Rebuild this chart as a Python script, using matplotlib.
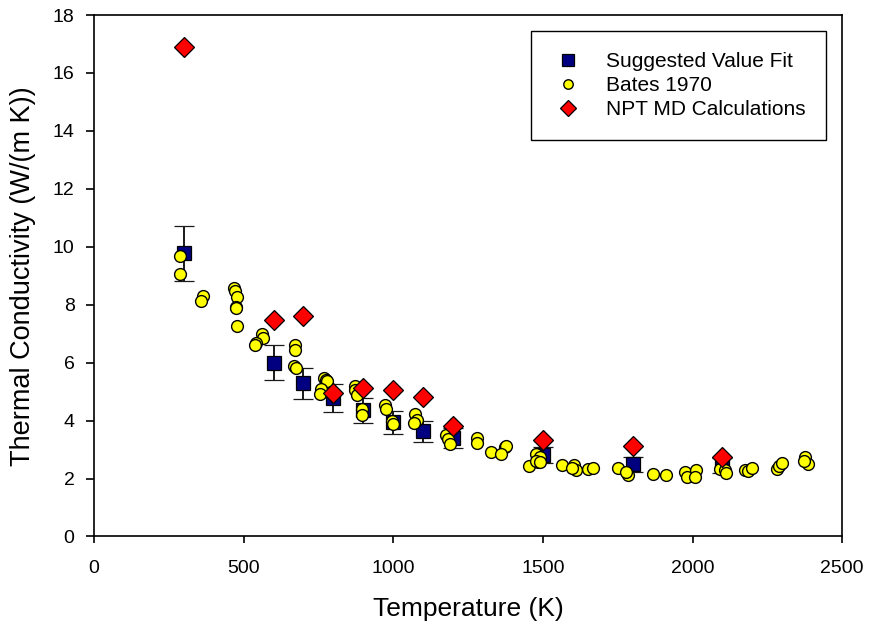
import numpy as np
import matplotlib
matplotlib.use("Agg")
import matplotlib.pyplot as plt

plt.rcParams['font.family'] = ['Liberation Sans', 'DejaVu Sans']

# Suggested value fit (with 10% error bars)
fit_T = [300, 600, 700, 800, 900, 1000, 1100, 1200, 1500, 1800, 2100]
fit_k = [9.78, 6.00, 5.29, 4.77, 4.35, 3.94, 3.63, 3.39, 2.80, 2.49, 2.45]
fit_err = [0.95, 0.60, 0.53, 0.48, 0.43, 0.39, 0.36, 0.34, 0.28, 0.25, 0.25]

# Bates 1970 measurements
bates_T = [288, 288, 366, 357, 468, 470, 478, 476, 476, 478, 562, 565, 542, 539,
           671, 672, 668, 675, 769, 774, 777, 760, 755, 871, 872, 880, 894, 896,
           973, 977, 995, 998, 1074, 1078, 1070, 1176, 1182, 1188, 1279, 1281,
           1326, 1372, 1377, 1360, 1455, 1483, 1483, 1478, 1492, 1478, 1492,
           1564, 1603, 1612, 1597, 1651, 1668, 1751, 1783, 1779, 1869, 1910,
           1975, 1980, 2011, 2009, 2092, 2107, 2111, 2176, 2187, 2198, 2282,
           2290, 2300, 2377, 2386, 2372]
bates_k = [9.69, 9.05, 8.29, 8.12, 8.56, 8.47, 8.27, 7.92, 7.87, 7.26, 6.98, 6.85,
           6.68, 6.61, 6.60, 6.43, 5.87, 5.83, 5.48, 5.41, 5.36, 5.10, 4.91, 5.18,
           5.05, 4.87, 4.39, 4.18, 4.53, 4.41, 3.98, 3.89, 4.24, 4.03, 3.92, 3.51,
           3.38, 3.18, 3.41, 3.22, 2.91, 3.09, 3.14, 2.83, 2.43, 2.80, 2.57, 2.86,
           2.74, 2.59, 2.57, 2.48, 2.48, 2.30, 2.37, 2.34, 2.37, 2.36, 2.11, 2.22,
           2.17, 2.11, 2.22, 2.05, 2.30, 2.07, 2.34, 2.28, 2.19, 2.28, 2.25, 2.37,
           2.32, 2.43, 2.55, 2.74, 2.51, 2.59]

# NPT MD calculations
md_T = [300, 600, 700, 800, 900, 1000, 1100, 1200, 1500, 1800, 2100]
md_k = [16.90, 7.46, 7.60, 4.94, 5.11, 5.04, 4.80, 3.80, 3.32, 3.14, 2.76]

fig = plt.figure(figsize=(8.7, 6.26), dpi=100)
ax = fig.add_axes([0.108, 0.1430, 0.860, 0.8330])

eb = ax.errorbar(fit_T, fit_k, yerr=fit_err, fmt='s', color='#000080', ms=10,
                 mec='black', mew=0.9, ecolor='#1a1a1a', elinewidth=1.4,
                 capsize=7, capthick=1.4, zorder=2)
bates, = ax.plot(bates_T, bates_k, 'o', color='#ffff00', ms=8.5, mec='black',
                 mew=1.0, zorder=3)
md, = ax.plot(md_T, md_k, 'D', color='#ff0000', ms=10, mec='black', mew=0.9,
              zorder=4)

ax.set_xlim(0, 2500)
ax.set_ylim(0, 18)
ax.set_xticks(np.arange(0, 2501, 500))
ax.set_yticks(np.arange(0, 19, 2))
for s in ax.spines.values():
    s.set_linewidth(1.2)
ax.tick_params(axis='x', direction='out', labelsize=14, length=5, width=1.2, pad=12)
ax.tick_params(axis='y', direction='out', labelsize=14, length=6, width=1.2, pad=8)
ax.set_xlabel('Temperature (K)', fontsize=19, labelpad=14)
ax.set_ylabel('Thermal Conductivity (W/(m K))', fontsize=19.5, labelpad=12)

leg = ax.legend([eb[0], bates, md],
                ['Suggested Value Fit', 'Bates 1970', 'NPT MD Calculations'],
                loc='upper right', bbox_to_anchor=(826 / 870, 1 - 31 / 626),
                bbox_transform=fig.transFigure, borderaxespad=0,
                fontsize=15, fancybox=False, edgecolor='black', framealpha=1,
                borderpad=1.0, handletextpad=1.0, labelspacing=0.25,
                markerscale=0.8, handlelength=1.6)
leg.get_frame().set_linewidth(1.0)

fig.savefig('out.png', dpi=100)
